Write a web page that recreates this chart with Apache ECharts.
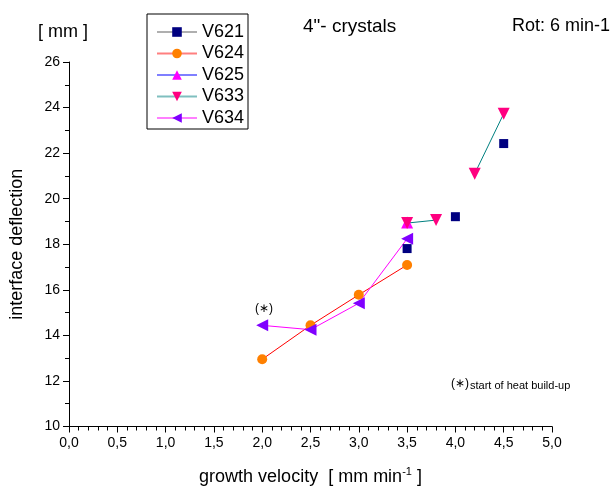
<!DOCTYPE html>
<html>
<head>
<meta charset="utf-8">
<script src="https://cdn.jsdelivr.net/npm/echarts@6/dist/echarts.min.js"></script>
<style>
  html, body { margin: 0; padding: 0; background: #fff; }
  #chart { width: 614px; height: 491px; }
</style>
</head>
<body>
<div id="chart"></div>
<script>
// Interface deflection vs. growth velocity, 4" crystals
var seriesNames = ['V621', 'V624', 'V625', 'V633', 'V634'];

var v621 = [[3.5, 17.81], [4.0, 19.21], [4.5, 22.42]];
var v624 = [[2.0, 12.95], [2.5, 14.44], [3.0, 15.78], [3.5, 17.09]];
var v625 = [[3.5, 18.95]];
var v633 = [[3.5, 18.93], [3.8, 19.06], ['-', '-'], [4.2, 21.1], [4.5, 23.73]];
var v634 = [[2.0, 14.44], [2.5, 14.25], [3.0, 15.41], [3.5, 18.24]];

var xTicks = { min: 0, max: 5, step: 0.5 };
var yTicks = { min: 10, max: 26, step: 2 };

var font = 'Liberation Sans, Arial, sans-serif';

var chart = echarts.init(document.getElementById('chart'), null, { renderer: 'canvas' });

// legend swatch lines are drawn a little softer than the plotted lines
function swatch(color) {
  return { lineStyle: { color: color, width: 2, opacity: 0.5 } };
}

chart.setOption({
  animation: false,
  backgroundColor: '#ffffff',
  grid: { left: 69, right: 62, top: 62, bottom: 60, containLabel: false },
  xAxis: {
    type: 'value',
    min: xTicks.min, max: xTicks.max, interval: xTicks.step,
    name: '{a|growth velocity  [ mm min}{s|-1}{a| ]}',
    nameLocation: 'middle',
    nameGap: 40,
    nameTextStyle: {
      rich: {
        a: { fontFamily: font, fontSize: 18, color: '#000' },
        s: { fontFamily: font, fontSize: 11, color: '#000', verticalAlign: 'top', padding: [0, 0, 10, 0] }
      }
    },
    axisLine: { lineStyle: { color: '#000', width: 1 } },
    axisTick: { inside: false, length: 6, lineStyle: { color: '#000' } },
    minorTick: { show: true, splitNumber: 5, length: 4, lineStyle: { color: '#000' } },
    splitLine: { show: false },
    axisLabel: {
      fontFamily: font, fontSize: 14, color: '#000', margin: 10,
      formatter: function (v) { return v.toFixed(1).replace('.', ','); }
    }
  },
  yAxis: {
    type: 'value',
    min: yTicks.min, max: yTicks.max, interval: yTicks.step,
    name: 'interface deflection',
    nameLocation: 'middle',
    nameGap: 43,
    nameTextStyle: { fontFamily: font, fontSize: 18, color: '#000' },
    axisLine: { show: true, lineStyle: { color: '#000', width: 1 } },
    axisTick: { show: true, inside: false, length: 6, lineStyle: { color: '#000' } },
    minorTick: { show: true, splitNumber: 2, length: 4, lineStyle: { color: '#000' } },
    splitLine: { show: false },
    axisLabel: { fontFamily: font, fontSize: 14, color: '#000', margin: 9 }
  },
  legend: {
    left: 156, top: 23,
    orient: 'vertical',
    padding: 0,
    itemWidth: 40, itemHeight: 12, itemGap: 3.5,
    textStyle: { fontFamily: font, fontSize: 18, color: '#000', lineHeight: 18 },
    data: [
      Object.assign({ name: 'V621' }, swatch('#606060')),
      Object.assign({ name: 'V624' }, swatch('#ff0000')),
      Object.assign({ name: 'V625' }, swatch('#0000ff')),
      Object.assign({ name: 'V633' }, swatch('#008080')),
      Object.assign({ name: 'V634' }, swatch('#ff00ff'))
    ]
  },
  graphic: [
    { type: 'rect', shape: { x: 147, y: 14, width: 101, height: 115 },
      style: { fill: 'none', stroke: '#000', lineWidth: 1 }, z: 10 },
    { type: 'text', left: 38, top: 23, style: { text: '[ mm ]', font: '18px ' + font, fill: '#000' } },
    { type: 'text', left: 303, top: 17, style: { text: '4"- crystals', font: '19px ' + font, fill: '#000' } },
    { type: 'text', left: 512, top: 17, style: { text: 'Rot: 6 min-1', font: '18px ' + font, fill: '#000' } },
    { type: 'text', left: 255, top: 303, style: { text: '(∗)', font: '12px ' + font, fill: '#000' } },
    { type: 'text', left: 451, top: 378, style: { text: '(∗)', font: '12px ' + font, fill: '#000' } },
    { type: 'text', left: 470, top: 380, style: { text: 'start of heat build-up', font: '11px ' + font, fill: '#000' } }
  ],
  series: [
    {
      name: seriesNames[0], type: 'line', data: v621,
      symbol: 'rect', symbolSize: 9,
      itemStyle: { color: '#000080' },
      lineStyle: { color: '#808080', width: 1, opacity: 0 },
      z: 3
    },
    {
      name: seriesNames[1], type: 'line', data: v624,
      symbol: 'circle', symbolSize: 10,
      itemStyle: { color: '#ff8000' },
      lineStyle: { color: '#ff0000', width: 1 },
      z: 2
    },
    {
      name: seriesNames[2], type: 'line', data: v625,
      symbol: 'triangle', symbolSize: 12,
      itemStyle: { color: '#ff00ff' },
      lineStyle: { color: '#0000ff', width: 1 },
      z: 2
    },
    {
      name: seriesNames[3], type: 'line', data: v633,
      symbol: 'triangle', symbolSize: 12, symbolRotate: 180,
      itemStyle: { color: '#ff0080' },
      lineStyle: { color: '#008080', width: 1 },
      connectNulls: false,
      z: 2
    },
    {
      name: seriesNames[4], type: 'line', data: v634,
      symbol: 'triangle', symbolSize: 12, symbolRotate: 90,
      itemStyle: { color: '#8000ff' },
      lineStyle: { color: '#ff00ff', width: 1 },
      z: 2
    }
  ]
});
</script>
</body>
</html>
